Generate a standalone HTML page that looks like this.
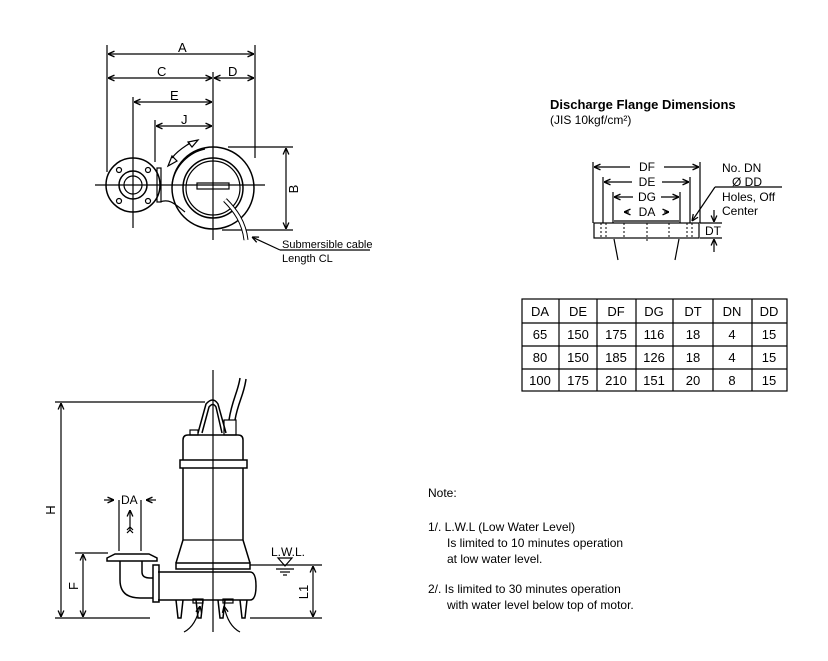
<!DOCTYPE html>
<html><head><style>
html,body{margin:0;padding:0;background:#fff;}
svg{display:block;font-family:"Liberation Sans",sans-serif;}
</style></head><body>
<svg width="828" height="661" viewBox="0 0 828 661" xmlns="http://www.w3.org/2000/svg">
<defs>
<marker id="ar" viewBox="0 0 10 10" refX="10" refY="5" markerWidth="6" markerHeight="6" orient="auto-start-reverse"><path d="M1,1 L10,5 L1,9" fill="none" stroke="#000" stroke-width="1.8"/></marker>
</defs>
<g stroke="#000" stroke-width="1.2" fill="none">
<line x1="107" y1="45" x2="107" y2="172"/>
<line x1="255" y1="45" x2="255" y2="158"/>
<line x1="213" y1="72" x2="213" y2="240"/>
<line x1="133" y1="97" x2="133" y2="228"/>
<line x1="155" y1="120" x2="155" y2="162"/>
<line x1="108" y1="54" x2="254" y2="54" marker-start="url(#ar)" marker-end="url(#ar)"/>
<line x1="108" y1="78" x2="212" y2="78" marker-start="url(#ar)" marker-end="url(#ar)"/>
<line x1="214" y1="78" x2="254" y2="78" marker-start="url(#ar)" marker-end="url(#ar)"/>
<line x1="134" y1="102" x2="212" y2="102" marker-start="url(#ar)" marker-end="url(#ar)"/>
<line x1="156" y1="126" x2="212" y2="126" marker-start="url(#ar)" marker-end="url(#ar)"/>
<line x1="95" y1="185" x2="265" y2="185"/>
<line x1="228" y1="147" x2="293" y2="147"/>
<line x1="222" y1="230" x2="293" y2="230"/>
<line x1="286" y1="148" x2="286" y2="229" marker-start="url(#ar)" marker-end="url(#ar)"/>
<circle cx="213" cy="188" r="41" stroke-width="1.5"/>
<circle cx="213" cy="188" r="30" stroke-width="1.5"/>
<circle cx="213" cy="188" r="27"/>
<rect x="197" y="183" width="32" height="6"/>
<path d="M172,184 C175,165 190,152 205,149"/>
<path d="M160,202 C170,198 176,205 185,212"/>
<circle cx="133" cy="185" r="27" stroke-width="1.5"/>
<circle cx="133" cy="185" r="14" stroke-width="1.5"/>
<circle cx="133" cy="185" r="9"/>
<circle cx="119" cy="170" r="2.5"/><circle cx="148" cy="170" r="2.5"/>
<circle cx="119" cy="201" r="2.5"/><circle cx="148" cy="201" r="2.5"/>
<rect x="157" y="168" width="4" height="34"/>
<path d="M225,200 C235,210 244,222 246,240" stroke-width="5"/>
<path d="M225,200 C235,210 244,222 246,240" stroke="#fff" stroke-width="3"/>
<path d="M172,158 C178,150 186,146 190,143"/>
<path d="M168,166 l4,-10 l5,5 z M198,140 l-10,2 l4,5 z"/>
<line x1="280" y1="250" x2="252" y2="237" marker-end="url(#ar)"/>
<line x1="280" y1="250" x2="370" y2="250"/>
<line x1="593" y1="162" x2="593" y2="223"/><line x1="700" y1="162" x2="700" y2="223"/>
<line x1="603" y1="177" x2="603" y2="223"/><line x1="690" y1="177" x2="690" y2="223"/>
<line x1="613" y1="192" x2="613" y2="223"/><line x1="680" y1="192" x2="680" y2="223"/>
<line x1="594" y1="167" x2="630" y2="167" marker-start="url(#ar)"/><line x1="664" y1="167" x2="699" y2="167" marker-end="url(#ar)"/>
<line x1="604" y1="182" x2="632" y2="182" marker-start="url(#ar)"/><line x1="662" y1="182" x2="689" y2="182" marker-end="url(#ar)"/>
<line x1="614" y1="197" x2="633" y2="197" marker-start="url(#ar)"/><line x1="661" y1="197" x2="679" y2="197" marker-end="url(#ar)"/>
<line x1="624" y1="212" x2="629" y2="212" marker-start="url(#ar)"/><line x1="664" y1="212" x2="669" y2="212" marker-end="url(#ar)"/>
<rect x="594" y="223" width="105" height="15"/>
<path d="M614,221 h65" />
<line x1="614" y1="239" x2="618" y2="260"/><line x1="679" y1="239" x2="675" y2="260"/>
<g stroke-dasharray="2,2" stroke-width="1"><line x1="601" y1="223" x2="601" y2="238"/><line x1="606" y1="223" x2="606" y2="238"/><line x1="624" y1="223" x2="624" y2="238"/><line x1="647" y1="223" x2="647" y2="242"/><line x1="669" y1="223" x2="669" y2="238"/><line x1="687" y1="223" x2="687" y2="238"/><line x1="692" y1="223" x2="692" y2="238"/></g>
<line x1="715" y1="187" x2="692" y2="221" marker-end="url(#ar)"/>
<line x1="715" y1="187" x2="782" y2="187"/>
<line x1="700" y1="223" x2="722" y2="223"/><line x1="700" y1="238" x2="722" y2="238"/>
<line x1="714" y1="210" x2="714" y2="222" marker-end="url(#ar)"/>
<line x1="714" y1="252" x2="714" y2="239" marker-end="url(#ar)"/>
<rect x="522" y="299" width="265" height="92"/>
<line x1="522" y1="323" x2="787" y2="323"/><line x1="522" y1="346" x2="787" y2="346"/><line x1="522" y1="369" x2="787" y2="369"/>
<line x1="559" y1="299" x2="559" y2="391"/><line x1="597" y1="299" x2="597" y2="391"/><line x1="636" y1="299" x2="636" y2="391"/><line x1="673" y1="299" x2="673" y2="391"/><line x1="713" y1="299" x2="713" y2="391"/><line x1="752" y1="299" x2="752" y2="391"/>
<line x1="55" y1="402" x2="205" y2="402"/>
<line x1="55" y1="618" x2="150" y2="618"/>
<line x1="61" y1="403" x2="61" y2="617" marker-start="url(#ar)" marker-end="url(#ar)"/>
<line x1="213" y1="370" x2="213" y2="632"/>
<line x1="75" y1="553" x2="108" y2="553"/>
<line x1="83" y1="554" x2="83" y2="617" marker-start="url(#ar)" marker-end="url(#ar)"/>
<line x1="250" y1="565" x2="322" y2="565"/>
<line x1="250" y1="618" x2="322" y2="618"/>
<line x1="313" y1="566" x2="313" y2="617" marker-start="url(#ar)" marker-end="url(#ar)"/>
<path d="M278,558 h14 l-7,8 z"/>
<line x1="276" y1="569" x2="294" y2="569"/><line x1="280" y1="572" x2="290" y2="572"/><line x1="283" y1="575" x2="287" y2="575"/>
<g stroke-width="1.5">
<path d="M183,460 V440 Q183,435 188,435 H238 Q243,435 243,440 V460"/>
<rect x="180" y="460" width="67" height="8"/>
<path d="M183,468 V540 L176,563 M243,468 V540 L250,563"/>
<rect x="176" y="563" width="74" height="6"/>
<path d="M158,572 H250 Q256,572 256,586 Q256,600 250,600 H158"/>
<rect x="153" y="565" width="6" height="37"/>
<path d="M176,600 l2,18 h3 l2,-18 M196,600 l2,18 h3 l2,-18 M218,600 l2,18 h3 l2,-18 M240,600 l2,18 h3 l2,-18"/>
<path d="M198,433 L206,404 Q213,396 218,404 L226,433 M202,433 L209,407 Q213,402 216,407 L222,433"/>
<path d="M229,420 C232,400 238,392 240,378 M235,420 C238,402 244,395 246,379"/>
<path d="M107,558 l8,-4 h34 l8,4 v3 h-50 z"/>
<path d="M120,561 V580 Q120,598 140,598 H153 M142,561 V572 Q142,578 150,578 H153"/>
</g>
<line x1="183" y1="540" x2="243" y2="540"/>
<rect x="193" y="599" width="10" height="4"/><rect x="223" y="599" width="10" height="4"/>
<rect x="190" y="430" width="8" height="5"/>
<rect x="224" y="420" width="12" height="15"/>
<line x1="119" y1="500" x2="119" y2="551"/><line x1="141" y1="500" x2="141" y2="551"/>
<line x1="104" y1="500" x2="114" y2="500" marker-end="url(#ar)"/>
<line x1="156" y1="500" x2="146" y2="500" marker-end="url(#ar)"/>
<line x1="130" y1="530" x2="130" y2="510" marker-end="url(#ar)"/>
<path d="M127,530 l3,-3 l3,3 M127,533 l3,-3 l3,3"/>
<path d="M184,632 Q196,626 200,606" marker-end="url(#ar)"/>
<path d="M240,632 Q228,626 224,606" marker-end="url(#ar)"/>
</g>
<g font-size="12" fill="#000">
<text x="178" y="52" font-size="13">A</text>
<text x="157" y="76" font-size="13">C</text>
<text x="228" y="76" font-size="13">D</text>
<text x="170" y="100" font-size="13">E</text>
<text x="181" y="124" font-size="13">J</text>
<text x="0" y="0" font-size="13" transform="translate(298,189) rotate(-90)" text-anchor="middle">B</text>
<text x="282" y="248" font-size="11">Submersible cable</text>
<text x="282" y="262" font-size="11">Length CL</text>
<text x="550" y="109" font-size="13" font-weight="bold">Discharge Flange Dimensions</text>
<text x="550" y="124" font-size="12">(JIS 10kgf/cm²)</text>
<g font-size="12" text-anchor="middle">
<text x="647" y="171">DF</text><text x="647" y="186">DE</text><text x="647" y="201">DG</text><text x="647" y="216">DA</text>
</g>
<text x="722" y="172">No. DN</text>
<text x="732" y="186">Ø  DD</text>
<text x="722" y="201">Holes, Off</text>
<text x="722" y="215">Center</text>
<text x="705" y="235">DT</text>
<g font-size="13" text-anchor="middle">
<text x="540" y="316">DA</text><text x="578" y="316">DE</text><text x="616" y="316">DF</text><text x="654" y="316">DG</text><text x="693" y="316">DT</text><text x="732" y="316">DN</text><text x="769" y="316">DD</text>
<text x="540" y="339">65</text><text x="578" y="339">150</text><text x="616" y="339">175</text><text x="654" y="339">116</text><text x="693" y="339">18</text><text x="732" y="339">4</text><text x="769" y="339">15</text>
<text x="540" y="362">80</text><text x="578" y="362">150</text><text x="616" y="362">185</text><text x="654" y="362">126</text><text x="693" y="362">18</text><text x="732" y="362">4</text><text x="769" y="362">15</text>
<text x="540" y="385">100</text><text x="578" y="385">175</text><text x="616" y="385">210</text><text x="654" y="385">151</text><text x="693" y="385">20</text><text x="732" y="385">8</text><text x="769" y="385">15</text>
</g>
<text x="0" y="0" font-size="13" transform="translate(55,510) rotate(-90)" text-anchor="middle">H</text>
<text x="0" y="0" font-size="13" transform="translate(78,586) rotate(-90)" text-anchor="middle">F</text>
<text x="0" y="0" font-size="13" transform="translate(308,592) rotate(-90)" text-anchor="middle">L1</text>
<text x="121" y="504">DA</text>
<text x="271" y="556">L.W.L.</text>
<text x="428" y="497">Note:</text>
<text x="428" y="531">1/. L.W.L  (Low Water Level)</text>
<text x="447" y="547">Is limited to 10 minutes operation</text>
<text x="447" y="563">at low water level.</text>
<text x="428" y="593">2/. Is limited to 30 minutes operation</text>
<text x="447" y="609">with water level below top of motor.</text>
</g>
</svg>
</body></html>
